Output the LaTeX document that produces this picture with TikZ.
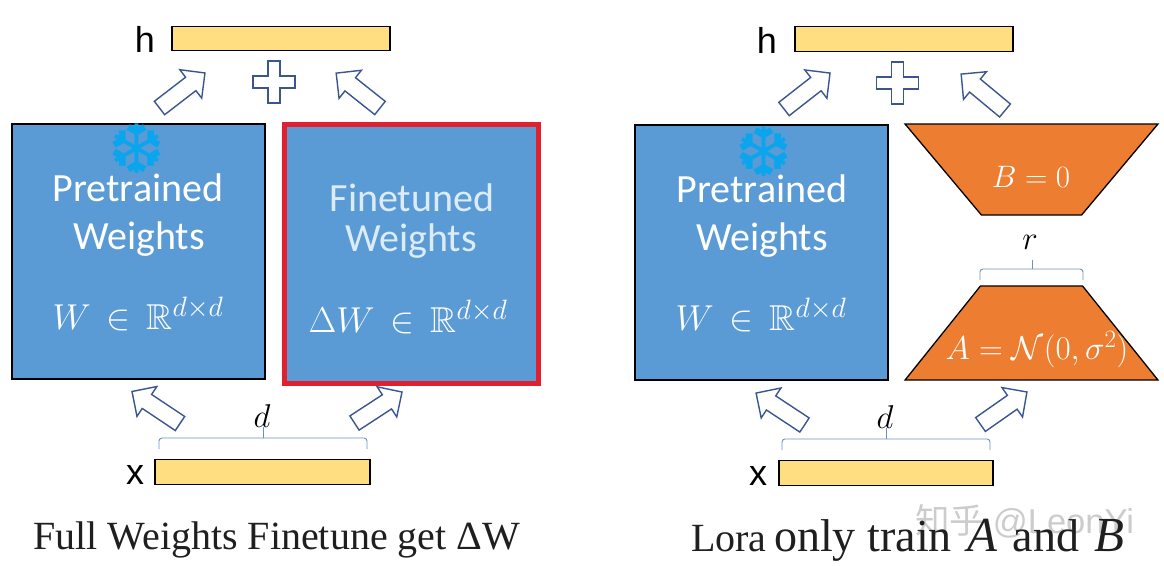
\documentclass[tikz,border=0pt]{standalone}
\usepackage{fix-cm}
\usepackage{amssymb}
\usepackage{fontspec}
\setmainfont{Liberation Serif}
\setsansfont{Carlito}
\newfontfamily\labelfont{Liberation Sans}
\newfontfamily\symbolfont{DejaVu Sans}
\newfontfamily\cjkfont{Noto Sans CJK SC}
\usetikzlibrary{shapes.geometric, shapes.arrows}
\DeclareMathSizes{36}{36}{28}{20}
\DeclareMathSizes{33}{33}{25}{18}
\definecolor{weightblue}{HTML}{5B9BD5}
\definecolor{loraorange}{HTML}{ED7D31}
\definecolor{vecyellow}{HTML}{FFDE82}
\definecolor{arrowblue}{HTML}{3A5590}
\definecolor{bracketblue}{HTML}{6F8FC0}
\definecolor{finered}{HTML}{E0202F}
\definecolor{flakeblue}{HTML}{0BA5EE}
\definecolor{palelabel}{HTML}{DCECF6}
\newcommand{\fs}[1]{\fontsize{#1}{#1}\selectfont}
\begin{document}
\begin{tikzpicture}[x=1pt,y=-1pt,
  weight box/.style={rectangle,draw=black,line width=1.3pt,fill=weightblue,inner sep=0pt,minimum width=253pt,minimum height=255pt},
  tuned box/.style={rectangle,draw=finered,line width=5pt,fill=weightblue,inner sep=0pt,minimum width=254pt,minimum height=259.5pt},
  vec box/.style={rectangle,draw=black,line width=1.3pt,fill=vecyellow,inner sep=0pt,minimum width=#1,minimum height=24.5pt},
  lora shape/.style={trapezium,trapezium stretches=true,draw=black,line width=1.3pt,fill=loraorange,inner sep=0pt,
    minimum width=253pt,minimum height=#1},
  block arrow/.style={single arrow,draw=arrowblue,line width=1.4pt,fill=white,inner sep=0pt,outer sep=0pt,anchor=tail,
    text height=15.5pt,text depth=0pt,single arrow head extend=9.5pt,minimum height=#1},
  plus sign/.pic={\draw[arrowblue,line width=1.4pt,fill=white] (-6,-21) -- (6,-21) -- (6,-6) -- (21,-6) -- (21,6) -- (6,6) -- (6,21)
    -- (-6,21) -- (-6,6) -- (-21,6) -- (-21,-6) -- (-6,-6) -- cycle;},
  side label/.style={font=\labelfont\fs{36},text=black,inner sep=0pt},
  weight label/.style={font=\sffamily\fs{40},text=white,inner sep=0pt},
  math label/.style={font=\fs{36},text=white,inner sep=0pt},
  dim label/.style={font=\fs{33},text=black,inner sep=0pt},
  flake/.style={font=\symbolfont\fs{68},text=flakeblue,inner sep=0pt},
  bracket/.style={draw=bracketblue,line width=0.9pt,rounded corners=3pt},
  caption/.style={font=\fs{40},text=black!88,inner sep=0pt,anchor=base west}]
  \useasboundingbox (0,0) rectangle (1164,565);

  \node[side label] (hL) at (145,39) {h};
  \node[vec box=218pt] (vecHL) at (281,38.5) {};
  \pic (plusL) at (274,82) {plus sign};
  \node[block arrow=57.4pt,rotate=37.6] (upLa) at (159.5,108) {};
  \node[block arrow=56pt,rotate=141.5] (upLb) at (380,108) {};
  \node[weight box] (preL) at (138.5,251.5) {};
  \node[tuned box] (tuned) at (411.5,253.8) {};
  \node[flake] (flakeL) at (137,149) {❆};
  \node[weight label] (preTxtL) at (138,188) {Pretrained};
  \node[weight label] (preWgtL) at (139,239) {Weights};
  \node[math label] (preMathL) at (138,314) {$W\,\in\,\mathbb{R}^{d\times d}$};
  \node[weight label,text=palelabel] (fineTxt) at (412,198) {Finetuned};
  \node[weight label,text=palelabel] (fineWgt) at (411,241) {Weights};
  \node[math label] (fineMath) at (408,317) {$\Delta W\,\in\,\mathbb{R}^{d\times d}$};
  \node[block arrow=57.7pt,rotate=146.3] (inLa) at (180,423.5) {};
  \node[block arrow=56.7pt,rotate=33.1] (inLb) at (354.5,423) {};
  \node[dim label] (dL) at (262,416) {$d$};
  \coordinate (braceLa) at (159,449);
  \coordinate (braceLb) at (367,449);
  \coordinate (braceLc) at (263,427);
  \draw[bracket] (braceLa) |- (braceLc |- 0,438) -| (braceLb);
  \draw[bracket] (braceLc |- 0,438) -- (braceLc);
  \node[side label] (xL) at (135,475) {x};
  \node[vec box=215pt] (vecXL) at (262.5,472) {};
  \node[caption] (capL) at (33,549) {Full Weights Finetune get ΔW};

  \node[side label] (hR) at (767,40) {h};
  \node[vec box=218pt] (vecHR) at (904,39) {};
  \pic (plusR) at (897.5,83) {plus sign};
  \node[block arrow=58.4pt,rotate=38] (upRa) at (784,109) {};
  \node[block arrow=57pt,rotate=140.3] (upRb) at (1005,110.5) {};
  \node[weight box] (preR) at (761.5,252.5) {};
  \node[flake] (flakeR) at (764,152) {❆};
  \node[weight label] (preTxtR) at (762,189) {Pretrained};
  \node[weight label] (preWgtR) at (762,240) {Weights};
  \node[math label] (preMathR) at (761,315) {$W\,\in\,\mathbb{R}^{d\times d}$};
  \node[lora shape=91pt,trapezium left angle=50.3,trapezium right angle=50.3,shape border rotate=180] (loraB) at (1031.5,169.5) {\phantom{x}};
  \node[math label,font=\fs{31}] (loraBTxt) at (1031,177) {$B=0$};
  \node[dim label] (rlabel) at (1030,242) {$r$};
  \coordinate (braceRa) at (980,280);
  \coordinate (braceRb) at (1083,280);
  \coordinate (braceRc) at (1032,260);
  \draw[bracket] (braceRa) |- (braceRc |- 0,269) -| (braceRb);
  \draw[bracket] (braceRc |- 0,269) -- (braceRc);
  \node[lora shape=94pt,trapezium left angle=51.2,trapezium right angle=51.2] (loraA) at (1031.5,333) {\phantom{x}};
  \node[math label,font=\fs{33}] (loraATxt) at (1037,350) {$A=\mathcal{N}(0,\sigma^2)$};
  \node[block arrow=58pt,rotate=146.6] (inRa) at (804.5,425) {};
  \node[block arrow=56.7pt,rotate=35] (inRb) at (980.5,424.5) {};
  \node[dim label] (dR) at (885,417) {$d$};
  \coordinate (braceRd) at (782,450);
  \coordinate (braceRe) at (990,450);
  \coordinate (braceRf) at (886,428);
  \draw[bracket] (braceRd) |- (braceRf |- 0,439) -| (braceRe);
  \draw[bracket] (braceRf |- 0,439) -- (braceRf);
  \node[side label] (xR) at (758,476) {x};
  \node[vec box=214pt] (vecXR) at (886,473) {};
  \node[font=\fs{34.5},text=black!20,inner sep=0pt,anchor=west] (mark) at (915,521) {{\cjkfont 知乎} {\labelfont @LeonYi}};
  \node[caption] (capRa) at (691,551) {Lora};
  \node[caption,font=\fs{46}] (capRb) at (774,551) {only train\hspace{4pt} {\fs{49}\textit{A}}\hspace{4pt} and\hspace{4pt} {\fs{49}\textit{B}}};
\end{tikzpicture}
\end{document}
